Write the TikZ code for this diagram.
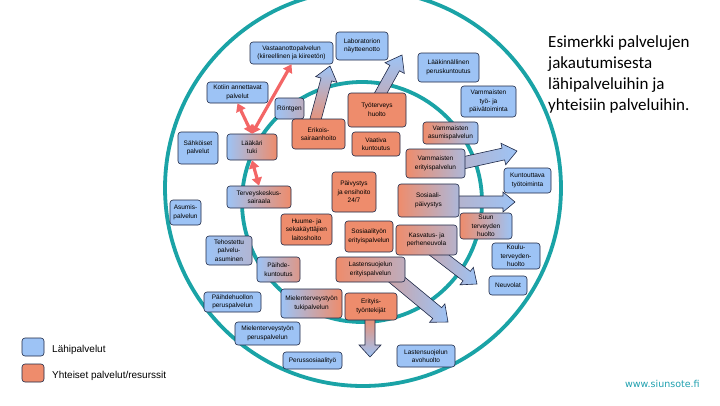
\documentclass[tikz,border=0pt]{standalone}
\usepackage{fontspec}
\setmainfont{Liberation Sans}
\newfontfamily\titlefont{Carlito}
\newfontfamily\urlfont{DejaVu Sans}
\usetikzlibrary{calc,arrows.meta}
\definecolor{lblue}{RGB}{157,195,245}
\definecolor{salm}{RGB}{238,140,108}
\definecolor{teal1}{RGB}{26,163,166}
\definecolor{teal2}{RGB}{30,160,175}
\definecolor{bord}{RGB}{30,40,70}
\definecolor{redar}{RGB}{243,102,102}
\newcommand\blockarr[6]{%
  \coordinate (#1-hb) at ($(#2)!#5!(#1)$);
  \path[barr,#6] ($(#1)!#3!90:(#2)$) -- ($(#1-hb)!#3!90:(#2)$) -- ($(#1-hb)!#4!90:(#2)$) -- (#2)
    -- ($(#1-hb)!#4!-90:(#2)$) -- ($(#1-hb)!#3!-90:(#2)$) -- ($(#1)!#3!-90:(#2)$) -- cycle;}
\begin{document}
\begin{tikzpicture}[x=1pt,y=-1pt,
  box/.style={draw=bord, line width=0.6pt, rounded corners=3pt, align=center, inner sep=0.5pt,
    font=\fontsize{6.5}{8.5}\selectfont, text=black},
  lb/.style={box, fill=lblue},
  yb/.style={box, fill=salm},
  sz/.style 2 args={minimum width=#1pt, minimum height=#2pt},
  redarr/.style={draw=redar, line width=3.2pt, {Triangle[length=8pt,width=10pt]}-{Triangle[length=8pt,width=10pt]}},
  ring/.style={draw=teal1, line width=3.8pt},
  barr/.style={draw=bord, line width=0.6pt}
]
\clip (0,0) rectangle (720,405);
\fill[white] (0,0) rectangle (720,405);

% rings
\draw[ring] (363,188) circle (198pt);
\draw[ring] (362,202) circle (120pt);

% block arrows
\coordinate (a1b) at (314,125); \coordinate (a1t) at (330,66);
\blockarr{a1b}{a1t}{5.5pt}{11pt}{14pt}{bottom color=salm, top color=lblue}
\coordinate (a2b) at (378,98); \coordinate (a2t) at (402,55);
\blockarr{a2b}{a2t}{5.5pt}{11pt}{15pt}{bottom color=lblue!55!salm, top color=lblue}
\coordinate (a3b) at (458,164); \coordinate (a3t) at (517,151);
\blockarr{a3b}{a3t}{6pt}{11pt}{14pt}{left color=lblue!70!salm, right color=lblue}
\coordinate (a4b) at (455,202); \coordinate (a4t) at (515,202);
\blockarr{a4b}{a4t}{6pt}{10pt}{12pt}{left color=lblue!70!salm, right color=lblue}
\coordinate (a5b) at (430,248); \coordinate (a5t) at (477,284);
\blockarr{a5b}{a5t}{6pt}{11pt}{13pt}{left color=lblue!50!salm, right color=lblue}
\coordinate (a6b) at (390,274); \coordinate (a6t) at (448,322);
\blockarr{a6b}{a6t}{7pt}{12pt}{14pt}{left color=lblue!40!salm, right color=lblue}
\coordinate (a7b) at (370,316); \coordinate (a7t) at (370,357);
\blockarr{a7b}{a7t}{5pt}{11pt}{12pt}{top color=salm, bottom color=lblue}

% blue boxes
\node[lb, sz={83}{22}] (vast) at (291.5,53) {Vastaanottopalvelun\\(kiireellinen ja kiireetön)};
\node[lb, sz={52}{28}] (lab) at (362,46) {Laboratorion\\näytteenotto};
\node[lb, sz={61}{29}] (laak) at (448.5,67.5) {Lääkinnällinen\\peruskuntoutus};
\node[lb, sz={55}{31}] (vamtyo) at (488.5,101.5) {Vammaisten\\työ- ja\\päivätoiminta};
\node[lb, sz={61}{21}] (koti) at (237.5,92.5) {Kotiin annettavat\\palvelut};
\node[box, left color=lblue, right color=lblue!60!salm, sz={29}{21}] (rontgen) at (289.5,108.5) {Röntgen};
\node[lb, sz={40}{32}] (sahk) at (198,148) {Sähköiset\\palvelut};
\node[box, left color=lblue, right color=salm, sz={50}{26}] (laakari) at (252,147) {Lääkäri\\tuki};
\node[box, left color=lblue, right color=salm, sz={64}{22}] (tk) at (259,197) {Terveyskeskus-\\sairaala};
\node[lb, sz={31}{25}] (asum) at (185.5,212.5) {Asumis-\\palvelun};
\node[box, left color=lblue, right color=lblue!75!salm, sz={46}{29}] (tehost) at (229,250.5) {Tehostettu\\palvelu-\\asuminen};
\node[box, left color=lblue, right color=salm!80!lblue, sz={43}{25}] (paihdek) at (278.5,269.5) {Päihde-\\kuntoutus};
\node[lb, sz={57}{20}] (paihdeh) at (232.5,302) {Päihdehuollon\\peruspalvelun};
\node[box, left color=lblue, right color=salm, sz={61}{29}] (mtuki) at (311.5,303.5) {Mielenterveystyön\\tukipalvelun};
\node[lb, sz={65}{23}] (mperus) at (267.5,333.5) {Mielenterveystyön\\peruspalvelun};
\node[lb, sz={59}{17}] (perussos) at (312.5,360.5) {Perussosiaalityö};
\node[lb, sz={58}{22}] (lsavo) at (426,356) {Lastensuojelun\\avohuolto};
\node[box, left color=salm, right color=lblue!70!salm, sz={61}{30}] (kasv) at (426.5,240) {Kasvatus- ja\\perheneuvola};
\node[lb, sz={47}{25}] (kuntty) at (527.5,180.5) {Kuntouttava\\työtoiminta};
\node[lb, sz={48}{26}] (koulu) at (516,256) {Koulu-\\terveyden-\\huolto};
\node[lb, sz={38}{19}] (neuvola) at (508,285.5) {Neuvolat};

% orange boxes
\node[yb, sz={53}{30}] (erik) at (318.5,134) {Erikois-\\sairaanhoito};
\node[yb, sz={58}{34}] (tyoter) at (377,110) {Työterveys\\huolto};
\node[yb, sz={48}{24}] (vaativa) at (376,144) {Vaativa\\kuntoutus};
\node[box, left color=salm, right color=lblue, sz={55}{22}] (vamasum) at (450.5,133) {Vammaisten\\asumispalvelun};
\node[box, left color=salm, right color=lblue!80!salm, sz={59}{29}] (vamerit) at (435.5,163.5) {Vammaisten\\erityispalvelun};
\node[yb, sz={44}{40}] (paiv) at (354,192) {Päivystys\\ja ensihoito\\24/7};
\node[box, left color=salm, right color=lblue!80!salm, sz={61}{33}] (sospaiv) at (428.5,200.5) {Sosiaali-\\päivystys};
\node[yb, sz={51}{31}] (huume) at (306.5,229.5) {Huume- ja\\sekakäyttäjien\\laitoshoito};
\node[yb, sz={48}{31}] (sostyo) at (369,236.5) {Sosiaalityön\\erityispalvelun};
\node[box, left color=salm, right color=lblue!60!salm, sz={69}{25}] (lserit) at (370.5,269.5) {Lastensuojelun\\erityispalvelun};
\node[box, left color=salm, right color=lblue, sz={52}{26}] (suun) at (486,226) {Suun\\terveyden\\huolto};
\node[yb, sz={52}{27}] (erityis) at (371,306.5) {Erityis-\\työntekijät};

% red double arrows
\draw[redarr] (laakari.north) -- (vast.south);
\draw[redarr] (laakari.north) -- (koti.south);
\draw[redarr] (laakari.south) -- (tk.north);

% legend
\node[lb, sz={22}{18}] (legb) at (33,347) {};
\node[yb, sz={22}{18}] (lego) at (33,373) {};
\node[anchor=base west, inner sep=0, font=\fontsize{10}{12}\selectfont] (legbt) at (52,352) {Lähipalvelut};
\node[anchor=base west, inner sep=0, font=\fontsize{10}{12}\selectfont] (legot) at (52,378) {Yhteiset palvelut/resurssit};

% title
\node[anchor=north west, inner sep=0, align=left, font=\titlefont\fontsize{17}{21}\selectfont] (title) at (548,35)
  {Esimerkki palvelujen\\jakautumisesta\\lähipalveluihin ja\\yhteisiin palveluihin.};

% url
\node[anchor=base west, inner sep=0, text=teal2, font=\urlfont\fontsize{9.5}{11}\selectfont] (url) at (625,387) {www.siunsote.fi};
\end{tikzpicture}
\end{document}
